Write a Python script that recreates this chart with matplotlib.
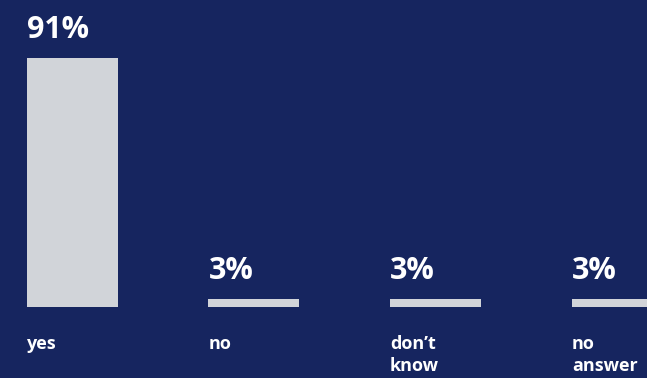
"""
plot.py  ─  single-question survey result bar chart
Saves out.png (647x378)
"""

import matplotlib
matplotlib.use("Agg")
import matplotlib.pyplot as plt


# ── Data ──────────────────────────────────────────────────────────────────────

categories = ["yes", "no", "don\u2019t\nknow", "no\nanswer"]
values     = [91, 3, 3, 3]
labels     = ["91%", "3%", "3%", "3%"]


# ── Style ─────────────────────────────────────────────────────────────────────

BG_COLOR  = "#16255f"
BAR_COLOR = "#d1d4d9"
TXT_COLOR = "#ffffff"
FONT      = ["Open Sans", "DejaVu Sans"]


# ── Plot ──────────────────────────────────────────────────────────────────────

fig = plt.figure(figsize=(6.47, 3.78), dpi=100, facecolor=BG_COLOR)
ax = fig.add_axes([0, 0, 1, 1])
ax.set_facecolor(BG_COLOR)

step = 181.7                       # px between bar centres
x = list(range(len(values)))
bars = ax.bar(x, values, width=91 / step, color=BAR_COLOR, linewidth=0)

px_per_unit = 249 / 91
ax.set_xlim(-72.2 / step, (647 - 72.2) / step)
ax.set_ylim(-(378 - 307) / px_per_unit, 307 / px_per_unit)
ax.axis("off")

for b, lab, cat in zip(bars, labels, categories):
    x0 = b.get_x()
    # value label above the bar
    ax.annotate(lab, xy=(x0, b.get_height()), xytext=(0, 14.5),
                textcoords="offset points", ha="left", va="baseline",
                color=TXT_COLOR, fontsize=22, fontweight="bold", family=FONT)
    # category label below the baseline
    ax.annotate(cat, xy=(x0, 0), xytext=(0, -20),
                textcoords="offset points", ha="left", va="top",
                color=TXT_COLOR, fontsize=13, fontweight="bold", family=FONT,
                linespacing=1.3)

fig.savefig("out.png", dpi=100, facecolor=BG_COLOR)
